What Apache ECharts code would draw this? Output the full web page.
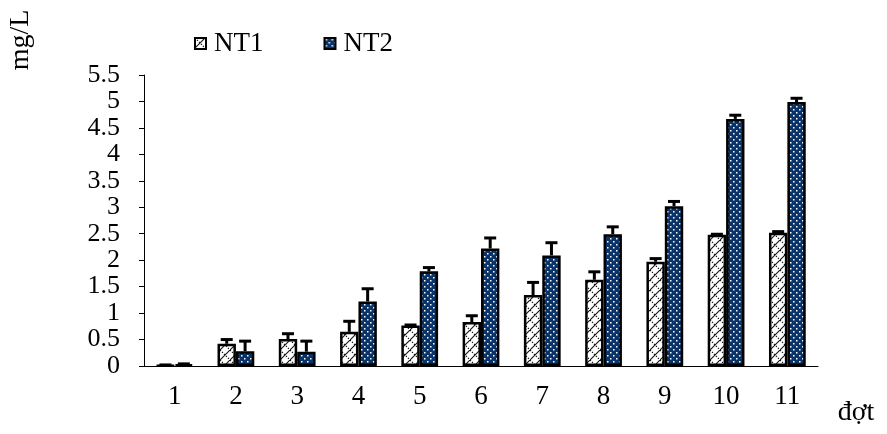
<!DOCTYPE html>
<html><head><meta charset="utf-8">
<script src="https://cdn.jsdelivr.net/npm/echarts@6/dist/echarts.min.js"></script>
<style>html,body{margin:0;padding:0;background:#fff}#c{width:887px;height:434px}</style>
</head><body><div id="c"></div>
<script>
const categories = ['1','2','3','4','5','6','7','8','9','10','11'];
const nt1 = [0.01, 0.42, 0.51, 0.645, 0.765, 0.83, 1.34, 1.63, 1.97, 2.48, 2.52];
const nt1Err = [0.01, 0.08, 0.10, 0.20, 0.01, 0.12, 0.24, 0.15, 0.06, 0.01, 0.02];
const nt2 = [0.03, 0.28, 0.27, 1.22, 1.79, 2.22, 2.09, 2.49, 3.02, 4.67, 4.99];
const nt2Err = [0.01, 0.19, 0.20, 0.24, 0.07, 0.20, 0.24, 0.14, 0.09, 0.07, 0.07];
const seriesNames = ['NT1', 'NT2'];

function hatch() {
  const s = 10;
  const c = document.createElement('canvas'); c.width = s; c.height = s;
  const g = c.getContext('2d');
  g.fillStyle = '#fff'; g.fillRect(0,0,s,s);
  g.strokeStyle = '#111'; g.lineWidth = 1.1;
  g.beginPath(); g.moveTo(-1,s+1); g.lineTo(s+1,-1); g.stroke();
  g.setLineDash([1.4,1.4]);
  g.beginPath(); g.moveTo(0,0); g.lineTo(s,s); g.stroke();
  return c;
}
function dots() {
  const c = document.createElement('canvas'); c.width = 6; c.height = 6;
  const g = c.getContext('2d');
  g.fillStyle = '#0a3469'; g.fillRect(0,0,6,6);
  g.fillStyle = '#ffffff';
  g.fillRect(1,1,1.5,1.5); g.fillRect(4,4,1.5,1.5);
  return c;
}
const fill1 = {image: hatch(), repeat: 'repeat'};
const fill2 = {image: dots(), repeat: 'repeat'};
const font = '"Liberation Serif", "Times New Roman", serif';
const catGap = 0.4;

function errSeries(vals, errs, idx) {
  return {
    type: 'custom', z: 5, silent: true,
    data: vals.map((v, i) => [i, v, errs[i]]),
    renderItem: function (params, api) {
      const x = api.value(0), y = api.value(1), e = api.value(2);
      const catW = api.size([1, 0])[0];
      const bw = catW * (1 - catGap) / 2;
      const off = idx === 0 ? -bw / 2 : bw / 2;
      const p0 = api.coord([x, y]);
      const p1 = api.coord([x, y + e]);
      const cx = p0[0] + off;
      const st = {stroke: '#000', lineWidth: 3};
      return {type: 'group', children: [
        {type: 'line', shape: {x1: cx, y1: p0[1], x2: cx, y2: p1[1]}, style: st},
        {type: 'line', shape: {x1: cx - 6, y1: p1[1], x2: cx + 6, y2: p1[1]}, style: st}
      ]};
    }
  };
}

const chart = echarts.init(document.getElementById('c'), null, {renderer: 'canvas'});
chart.setOption({
  animation: false,
  grid: {left: 144, right: 69, top: 75, bottom: 68},
  legend: {
    left: 189, top: 25, itemWidth: 11, itemHeight: 11, itemGap: 60,
    icon: 'rect',
    data: seriesNames,
    itemStyle: {borderColor: '#000', borderWidth: 2},
    textStyle: {fontFamily: font, fontSize: 27, color: '#000', padding: [0,0,0,3]}
  },
  xAxis: {
    type: 'category', data: categories,
    axisLine: {lineStyle: {color: '#000', width: 1}},
    axisTick: {length: 8, lineStyle: {color: '#000'}},
    axisLabel: {fontFamily: font, fontSize: 27, color: '#000', margin: 17}
  },
  yAxis: {
    type: 'value', min: 0, max: 5.5, interval: 0.5,
    axisLine: {show: true, lineStyle: {color: '#000', width: 1}},
    axisTick: {show: true, length: 5, lineStyle: {color: '#000'}},
    splitLine: {show: false},
    axisLabel: {fontFamily: font, fontSize: 26, color: '#000', margin: 24, lineHeight: 20,
      textMargin: [-4, 0], hideOverlap: false}
  },
  graphic: [
    {type: 'text', x: 21, y: 40, rotation: Math.PI / 2,
      style: {text: 'mg/L', font: '28px ' + font, fill: '#000', textAlign: 'center', textVerticalAlign: 'middle'}},
    {type: 'text', x: 856, y: 413,
      style: {text: 'đợt', font: '28px ' + font, fill: '#000', textAlign: 'center', textVerticalAlign: 'middle'}}
  ],
  series: [
    {name: 'NT1', type: 'bar', data: nt1, barGap: '0%', barCategoryGap: '40%',
      itemStyle: {color: fill1, borderColor: '#000', borderWidth: 2.5}},
    {name: 'NT2', type: 'bar', data: nt2, barGap: '0%', barCategoryGap: '40%',
      itemStyle: {color: fill2, borderColor: '#000', borderWidth: 2.5}},
    errSeries(nt1, nt1Err, 0),
    errSeries(nt2, nt2Err, 1)
  ]
});
</script></body></html>
